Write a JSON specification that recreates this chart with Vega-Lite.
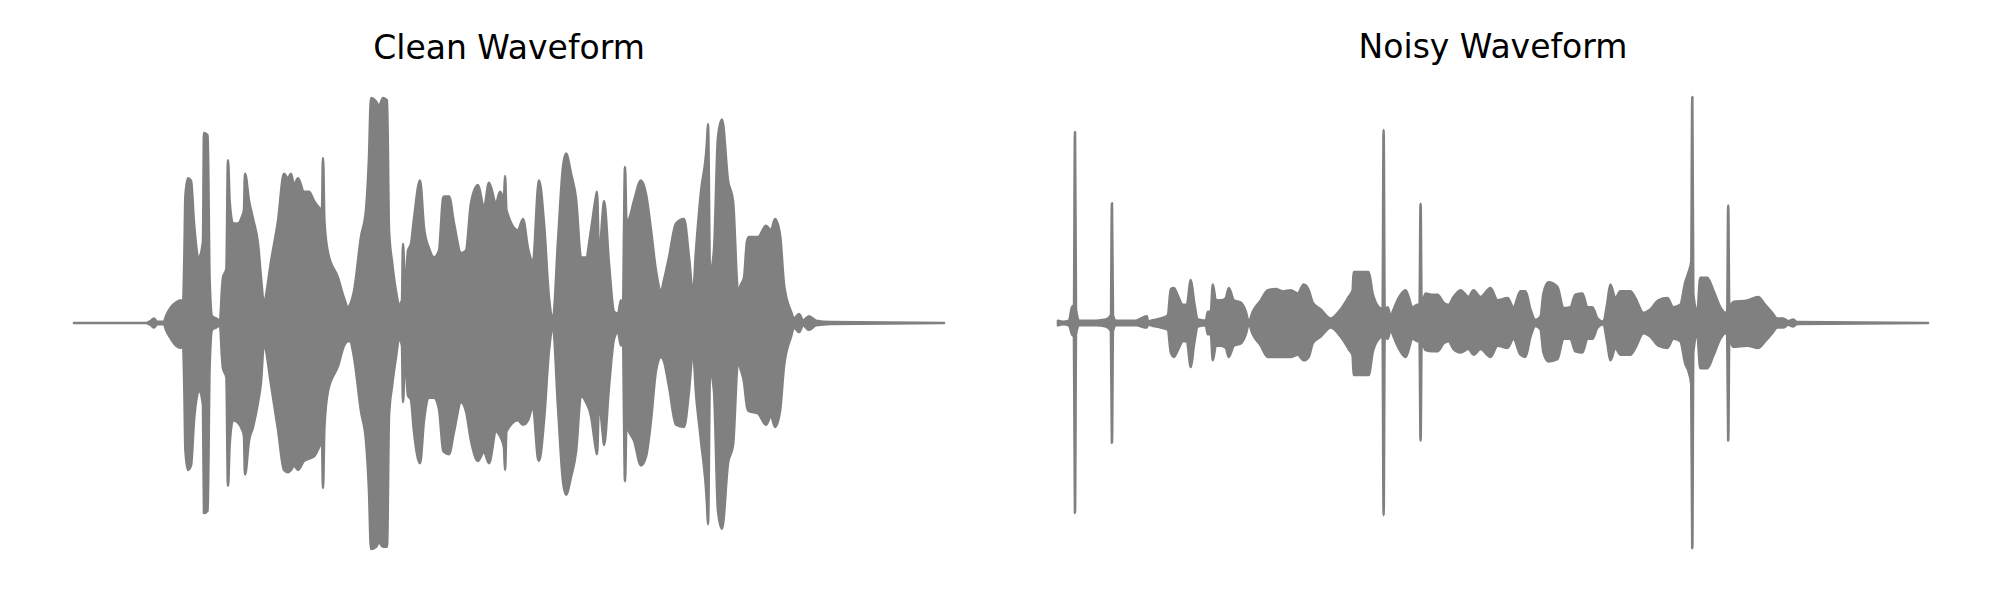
{
  "$schema": "https://vega.github.io/schema/vega-lite/v6.json",
  "background": "white",
  "padding": {"left": 72, "top": 31, "right": 0, "bottom": 0},
  "spacing": 110,
  "config": {
    "view": {"stroke": null},
    "title": {"font": "DejaVu Sans", "fontSize": 33, "fontWeight": "normal", "color": "#000000", "anchor": "middle", "baseline": "alphabetic", "offset": 31}
  },
  "datasets": {
    "clean": [
      {"t": 0, "hi": 0, "lo": 0}, {"t": 360, "hi": 0, "lo": 0}, {"t": 385, "hi": 0.01, "lo": -0.01}, {"t": 400, "hi": 0.02, "lo": -0.02}, {"t": 415, "hi": 0.005, "lo": -0.005}, {"t": 450, "hi": 0.005, "lo": -0.005},
      {"t": 460, "hi": 0.03, "lo": -0.03}, {"t": 485, "hi": 0.07, "lo": -0.07}, {"t": 510, "hi": 0.09, "lo": -0.1}, {"t": 535, "hi": 0.1, "lo": -0.11}, {"t": 545, "hi": 0.08, "lo": -0.09},
      {"t": 552, "hi": 0.3, "lo": -0.3}, {"t": 557, "hi": 0.56, "lo": -0.56}, {"t": 570, "hi": 0.64, "lo": -0.65}, {"t": 585, "hi": 0.63, "lo": -0.63}, {"t": 600, "hi": 0.44, "lo": -0.43}, {"t": 625, "hi": 0.29, "lo": -0.3},
      {"t": 645, "hi": 0.36, "lo": -0.36}, {"t": 650, "hi": 0.84, "lo": -0.84}, {"t": 668, "hi": 0.83, "lo": -0.83}, {"t": 678, "hi": 0.19, "lo": -0.19}, {"t": 690, "hi": 0.03, "lo": -0.03},
      {"t": 710, "hi": 0.02, "lo": -0.02}, {"t": 730, "hi": 0.01, "lo": -0.01}, {"t": 740, "hi": 0.15, "lo": -0.15}, {"t": 745, "hi": 0.2, "lo": -0.2}, {"t": 762, "hi": 0.24, "lo": -0.24}, {"t": 770, "hi": 0.72, "lo": -0.72},
      {"t": 778, "hi": 0.54, "lo": -0.54}, {"t": 795, "hi": 0.44, "lo": -0.43}, {"t": 820, "hi": 0.44, "lo": -0.44}, {"t": 840, "hi": 0.47, "lo": -0.47}, {"t": 850, "hi": 0.5, "lo": -0.5}, {"t": 855, "hi": 0.66, "lo": -0.67},
      {"t": 875, "hi": 0.54, "lo": -0.52}, {"t": 895, "hi": 0.46, "lo": -0.46}, {"t": 920, "hi": 0.35, "lo": -0.35}, {"t": 935, "hi": 0.2, "lo": -0.26}, {"t": 950, "hi": 0.08, "lo": -0.08},
      {"t": 960, "hi": 0.12, "lo": -0.12}, {"t": 985, "hi": 0.27, "lo": -0.27}, {"t": 1020, "hi": 0.45, "lo": -0.47}, {"t": 1050, "hi": 0.66, "lo": -0.65}, {"t": 1070, "hi": 0.64, "lo": -0.66},
      {"t": 1085, "hi": 0.66, "lo": -0.65}, {"t": 1100, "hi": 0.61, "lo": -0.63}, {"t": 1120, "hi": 0.64, "lo": -0.65}, {"t": 1150, "hi": 0.58, "lo": -0.61}, {"t": 1175, "hi": 0.58, "lo": -0.6},
      {"t": 1200, "hi": 0.54, "lo": -0.59}, {"t": 1225, "hi": 0.51, "lo": -0.55}, {"t": 1240, "hi": 0.5, "lo": -0.52}, {"t": 1245, "hi": 0.73, "lo": -0.73}, {"t": 1252, "hi": 0.45, "lo": -0.46}, {"t": 1270, "hi": 0.31, "lo": -0.3},
      {"t": 1320, "hi": 0.2, "lo": -0.19}, {"t": 1350, "hi": 0.11, "lo": -0.1}, {"t": 1370, "hi": 0.07, "lo": -0.08}, {"t": 1380, "hi": 0.08, "lo": -0.08}, {"t": 1400, "hi": 0.14, "lo": -0.15},
      {"t": 1435, "hi": 0.38, "lo": -0.39}, {"t": 1460, "hi": 0.5, "lo": -0.52}, {"t": 1475, "hi": 0.73, "lo": -0.74}, {"t": 1485, "hi": 0.995, "lo": -1.0}, {"t": 1510, "hi": 0.98, "lo": -0.99},
      {"t": 1525, "hi": 0.96, "lo": -0.97}, {"t": 1545, "hi": 0.995, "lo": -0.99}, {"t": 1565, "hi": 0.985, "lo": -0.99}, {"t": 1575, "hi": 0.41, "lo": -0.41}, {"t": 1590, "hi": 0.27, "lo": -0.28},
      {"t": 1610, "hi": 0.14, "lo": -0.15}, {"t": 1625, "hi": 0.08, "lo": -0.07}, {"t": 1640, "hi": 0.1, "lo": -0.1}, {"t": 1645, "hi": 0.35, "lo": -0.35}, {"t": 1655, "hi": 0.14, "lo": -0.14},
      {"t": 1670, "hi": 0.32, "lo": -0.32}, {"t": 1685, "hi": 0.35, "lo": -0.34}, {"t": 1700, "hi": 0.46, "lo": -0.48}, {"t": 1730, "hi": 0.63, "lo": -0.62}, {"t": 1750, "hi": 0.42, "lo": -0.43},
      {"t": 1775, "hi": 0.33, "lo": -0.33}, {"t": 1800, "hi": 0.29, "lo": -0.33}, {"t": 1825, "hi": 0.32, "lo": -0.38}, {"t": 1845, "hi": 0.55, "lo": -0.56}, {"t": 1850, "hi": 0.56, "lo": -0.57}, {"t": 1875, "hi": 0.56, "lo": -0.58},
      {"t": 1900, "hi": 0.44, "lo": -0.48}, {"t": 1935, "hi": 0.31, "lo": -0.35}, {"t": 1960, "hi": 0.32, "lo": -0.39}, {"t": 1985, "hi": 0.53, "lo": -0.52}, {"t": 2020, "hi": 0.61, "lo": -0.61},
      {"t": 2050, "hi": 0.51, "lo": -0.57}, {"t": 2075, "hi": 0.62, "lo": -0.62}, {"t": 2110, "hi": 0.53, "lo": -0.48}, {"t": 2130, "hi": 0.58, "lo": -0.5}, {"t": 2150, "hi": 0.55, "lo": -0.55}, {"t": 2155, "hi": 0.65, "lo": -0.65},
      {"t": 2162, "hi": 0.5, "lo": -0.48}, {"t": 2220, "hi": 0.41, "lo": -0.43}, {"t": 2245, "hi": 0.46, "lo": -0.45}, {"t": 2270, "hi": 0.33, "lo": -0.43}, {"t": 2295, "hi": 0.27, "lo": -0.37},
      {"t": 2320, "hi": 0.6, "lo": -0.6}, {"t": 2325, "hi": 0.63, "lo": -0.61}, {"t": 2350, "hi": 0.44, "lo": -0.43}, {"t": 2375, "hi": 0.11, "lo": -0.12}, {"t": 2395, "hi": 0.02, "lo": -0.02}, {"t": 2420, "hi": 0.36, "lo": -0.37},
      {"t": 2445, "hi": 0.69, "lo": -0.7}, {"t": 2460, "hi": 0.75, "lo": -0.76}, {"t": 2485, "hi": 0.66, "lo": -0.68}, {"t": 2510, "hi": 0.55, "lo": -0.57}, {"t": 2535, "hi": 0.29, "lo": -0.32},
      {"t": 2560, "hi": 0.29, "lo": -0.35}, {"t": 2585, "hi": 0.41, "lo": -0.41}, {"t": 2610, "hi": 0.56, "lo": -0.56}, {"t": 2615, "hi": 0.58, "lo": -0.58}, {"t": 2625, "hi": 0.29, "lo": -0.35}, {"t": 2645, "hi": 0.5, "lo": -0.5}, {"t": 2650, "hi": 0.54, "lo": -0.54},
      {"t": 2675, "hi": 0.26, "lo": -0.28}, {"t": 2700, "hi": 0.05, "lo": -0.07}, {"t": 2720, "hi": 0.04, "lo": -0.04}, {"t": 2735, "hi": 0.1, "lo": -0.1}, {"t": 2745, "hi": 0.05, "lo": -0.05},
      {"t": 2750, "hi": 0.4, "lo": -0.4}, {"t": 2755, "hi": 0.69, "lo": -0.7}, {"t": 2762, "hi": 0.45, "lo": -0.45}, {"t": 2775, "hi": 0.46, "lo": -0.48}, {"t": 2800, "hi": 0.54, "lo": -0.52}, {"t": 2835, "hi": 0.63, "lo": -0.63},
      {"t": 2860, "hi": 0.57, "lo": -0.59}, {"t": 2885, "hi": 0.41, "lo": -0.43}, {"t": 2910, "hi": 0.23, "lo": -0.21}, {"t": 2935, "hi": 0.14, "lo": -0.15}, {"t": 2950, "hi": 0.19, "lo": -0.17},
      {"t": 2975, "hi": 0.29, "lo": -0.28}, {"t": 3010, "hi": 0.44, "lo": -0.45}, {"t": 3050, "hi": 0.46, "lo": -0.46}, {"t": 3075, "hi": 0.29, "lo": -0.3}, {"t": 3095, "hi": 0.13, "lo": -0.12},
      {"t": 3110, "hi": 0.32, "lo": -0.31}, {"t": 3135, "hi": 0.58, "lo": -0.52}, {"t": 3165, "hi": 0.8, "lo": -0.8}, {"t": 3170, "hi": 0.88, "lo": -0.89}, {"t": 3180, "hi": 0.22, "lo": -0.21}, {"t": 3200, "hi": 0.32, "lo": -0.3},
      {"t": 3220, "hi": 0.82, "lo": -0.83}, {"t": 3240, "hi": 0.9, "lo": -0.91}, {"t": 3270, "hi": 0.63, "lo": -0.62}, {"t": 3295, "hi": 0.54, "lo": -0.54}, {"t": 3320, "hi": 0.14, "lo": -0.17},
      {"t": 3335, "hi": 0.17, "lo": -0.21}, {"t": 3350, "hi": 0.2, "lo": -0.26}, {"t": 3365, "hi": 0.36, "lo": -0.37}, {"t": 3375, "hi": 0.38, "lo": -0.39}, {"t": 3420, "hi": 0.38, "lo": -0.4}, {"t": 3460, "hi": 0.43, "lo": -0.45},
      {"t": 3485, "hi": 0.41, "lo": -0.41}, {"t": 3505, "hi": 0.46, "lo": -0.46}, {"t": 3530, "hi": 0.39, "lo": -0.39}, {"t": 3550, "hi": 0.17, "lo": -0.19}, {"t": 3585, "hi": 0.05, "lo": -0.06},
      {"t": 3600, "hi": 0.02, "lo": -0.02}, {"t": 3625, "hi": 0.04, "lo": -0.04}, {"t": 3645, "hi": 0.01, "lo": -0.01}, {"t": 3675, "hi": 0.03, "lo": -0.03}, {"t": 3710, "hi": 0.01, "lo": -0.01},
      {"t": 3785, "hi": 0.004, "lo": -0.004}, {"t": 4350, "hi": 0, "lo": 0}
    ],
    "noisy": [
      {"t": 0, "hi": 0.01, "lo": -0.01}, {"t": 25, "hi": 0.005, "lo": -0.005}, {"t": 55, "hi": 0.01, "lo": -0.01}, {"t": 70, "hi": 0.07, "lo": -0.05}, {"t": 80, "hi": 0.08, "lo": -0.06},
      {"t": 85, "hi": 0.845, "lo": -0.84}, {"t": 90, "hi": 0.06, "lo": -0.05}, {"t": 105, "hi": 0.01, "lo": -0.01}, {"t": 190, "hi": 0.01, "lo": -0.01}, {"t": 240, "hi": 0.015, "lo": -0.015},
      {"t": 265, "hi": 0.035, "lo": -0.035}, {"t": 270, "hi": 0.53, "lo": -0.53}, {"t": 275, "hi": 0.035, "lo": -0.035}, {"t": 290, "hi": 0.01, "lo": -0.01}, {"t": 390, "hi": 0.01, "lo": -0.01},
      {"t": 445, "hi": 0.03, "lo": -0.02}, {"t": 450, "hi": 0.005, "lo": -0.005}, {"t": 465, "hi": 0.01, "lo": -0.01}, {"t": 515, "hi": 0.02, "lo": -0.02}, {"t": 550, "hi": 0.035, "lo": -0.03},
      {"t": 565, "hi": 0.15, "lo": -0.13}, {"t": 580, "hi": 0.155, "lo": -0.15}, {"t": 600, "hi": 0.12, "lo": -0.12}, {"t": 625, "hi": 0.08, "lo": -0.08}, {"t": 645, "hi": 0.08, "lo": -0.08},
      {"t": 665, "hi": 0.19, "lo": -0.195}, {"t": 680, "hi": 0.1, "lo": -0.1}, {"t": 700, "hi": 0.015, "lo": -0.015}, {"t": 740, "hi": 0.01, "lo": -0.01}, {"t": 750, "hi": 0.05, "lo": -0.05},
      {"t": 765, "hi": 0.05, "lo": -0.05}, {"t": 775, "hi": 0.17, "lo": -0.165}, {"t": 790, "hi": 0.1, "lo": -0.1}, {"t": 815, "hi": 0.1, "lo": -0.1}, {"t": 840, "hi": 0.11, "lo": -0.11},
      {"t": 855, "hi": 0.155, "lo": -0.15}, {"t": 880, "hi": 0.1, "lo": -0.1}, {"t": 915, "hi": 0.09, "lo": -0.09}, {"t": 940, "hi": 0.05, "lo": -0.05}, {"t": 955, "hi": 0.005, "lo": -0.005},
      {"t": 975, "hi": 0.05, "lo": -0.05}, {"t": 1015, "hi": 0.1, "lo": -0.1}, {"t": 1050, "hi": 0.145, "lo": -0.15}, {"t": 1090, "hi": 0.15, "lo": -0.15}, {"t": 1125, "hi": 0.14, "lo": -0.15},
      {"t": 1165, "hi": 0.145, "lo": -0.15}, {"t": 1200, "hi": 0.13, "lo": -0.14}, {"t": 1230, "hi": 0.17, "lo": -0.165}, {"t": 1255, "hi": 0.145, "lo": -0.15}, {"t": 1275, "hi": 0.09, "lo": -0.09},
      {"t": 1315, "hi": 0.06, "lo": -0.06}, {"t": 1365, "hi": 0.02, "lo": -0.02}, {"t": 1415, "hi": 0.06, "lo": -0.06}, {"t": 1455, "hi": 0.115, "lo": -0.115}, {"t": 1475, "hi": 0.145, "lo": -0.145},
      {"t": 1480, "hi": 0.225, "lo": -0.23}, {"t": 1555, "hi": 0.225, "lo": -0.23}, {"t": 1575, "hi": 0.13, "lo": -0.13}, {"t": 1605, "hi": 0.07, "lo": -0.07}, {"t": 1625, "hi": 0.06, "lo": -0.06},
      {"t": 1630, "hi": 0.854, "lo": -0.85}, {"t": 1635, "hi": 0.06, "lo": -0.06}, {"t": 1650, "hi": 0.07, "lo": -0.07}, {"t": 1665, "hi": 0.03, "lo": -0.03}, {"t": 1680, "hi": 0.06, "lo": -0.06},
      {"t": 1705, "hi": 0.11, "lo": -0.11}, {"t": 1740, "hi": 0.145, "lo": -0.15}, {"t": 1775, "hi": 0.07, "lo": -0.07}, {"t": 1800, "hi": 0.08, "lo": -0.08}, {"t": 1810, "hi": 0.08, "lo": -0.08},
      {"t": 1815, "hi": 0.527, "lo": -0.52}, {"t": 1820, "hi": 0.08, "lo": -0.08}, {"t": 1840, "hi": 0.13, "lo": -0.12}, {"t": 1875, "hi": 0.125, "lo": -0.125}, {"t": 1900, "hi": 0.125, "lo": -0.125},
      {"t": 1930, "hi": 0.09, "lo": -0.09}, {"t": 1955, "hi": 0.08, "lo": -0.08}, {"t": 1980, "hi": 0.115, "lo": -0.115}, {"t": 2015, "hi": 0.145, "lo": -0.13}, {"t": 2055, "hi": 0.115, "lo": -0.115},
      {"t": 2080, "hi": 0.145, "lo": -0.14}, {"t": 2115, "hi": 0.115, "lo": -0.115}, {"t": 2165, "hi": 0.155, "lo": -0.15}, {"t": 2200, "hi": 0.1, "lo": -0.1}, {"t": 2250, "hi": 0.11, "lo": -0.11},
      {"t": 2280, "hi": 0.07, "lo": -0.07}, {"t": 2315, "hi": 0.14, "lo": -0.14}, {"t": 2340, "hi": 0.14, "lo": -0.15}, {"t": 2365, "hi": 0.06, "lo": -0.06}, {"t": 2390, "hi": 0.013, "lo": -0.013},
      {"t": 2415, "hi": 0.027, "lo": -0.027}, {"t": 2430, "hi": 0.13, "lo": -0.13}, {"t": 2455, "hi": 0.18, "lo": -0.17}, {"t": 2500, "hi": 0.16, "lo": -0.16}, {"t": 2530, "hi": 0.066, "lo": -0.07},
      {"t": 2565, "hi": 0.07, "lo": -0.07}, {"t": 2590, "hi": 0.125, "lo": -0.125}, {"t": 2625, "hi": 0.13, "lo": -0.13}, {"t": 2650, "hi": 0.07, "lo": -0.07}, {"t": 2675, "hi": 0.07, "lo": -0.07},
      {"t": 2700, "hi": 0.02, "lo": -0.02}, {"t": 2730, "hi": 0.005, "lo": -0.005}, {"t": 2750, "hi": 0.09, "lo": -0.09}, {"t": 2765, "hi": 0.17, "lo": -0.165}, {"t": 2790, "hi": 0.11, "lo": -0.11},
      {"t": 2815, "hi": 0.14, "lo": -0.14}, {"t": 2865, "hi": 0.14, "lo": -0.14}, {"t": 2890, "hi": 0.11, "lo": -0.11}, {"t": 2930, "hi": 0.045, "lo": -0.045}, {"t": 2965, "hi": 0.06, "lo": -0.06},
      {"t": 3005, "hi": 0.1, "lo": -0.1}, {"t": 3050, "hi": 0.11, "lo": -0.11}, {"t": 3080, "hi": 0.07, "lo": -0.07}, {"t": 3115, "hi": 0.08, "lo": -0.08}, {"t": 3140, "hi": 0.18, "lo": -0.18},
      {"t": 3155, "hi": 0.22, "lo": -0.21}, {"t": 3170, "hi": 0.27, "lo": -0.27}, {"t": 3175, "hi": 1.0, "lo": -0.996}, {"t": 3180, "hi": 0.13, "lo": -0.13}, {"t": 3200, "hi": 0.045, "lo": -0.045},
      {"t": 3215, "hi": 0.2, "lo": -0.2}, {"t": 3250, "hi": 0.2, "lo": -0.2}, {"t": 3280, "hi": 0.145, "lo": -0.145}, {"t": 3315, "hi": 0.07, "lo": -0.07}, {"t": 3340, "hi": 0.045, "lo": -0.045},
      {"t": 3350, "hi": 0.05, "lo": -0.05}, {"t": 3355, "hi": 0.52, "lo": -0.52}, {"t": 3360, "hi": 0.07, "lo": -0.07}, {"t": 3380, "hi": 0.093, "lo": -0.105}, {"t": 3450, "hi": 0.1, "lo": -0.1},
      {"t": 3505, "hi": 0.115, "lo": -0.11}, {"t": 3540, "hi": 0.08, "lo": -0.08}, {"t": 3575, "hi": 0.045, "lo": -0.045}, {"t": 3600, "hi": 0.02, "lo": -0.02}, {"t": 3630, "hi": 0.02, "lo": -0.02},
      {"t": 3655, "hi": 0.008, "lo": -0.008}, {"t": 3680, "hi": 0.015, "lo": -0.015}, {"t": 3700, "hi": 0.004, "lo": -0.004}, {"t": 4355, "hi": 0, "lo": 0}
    ]
  },
  "hconcat": [
    {
      "title": "Clean Waveform",
      "width": 870,
      "height": 452,
      "data": {"name": "clean"},
      "mark": {"type": "area", "color": "#808080", "stroke": "#808080", "strokeWidth": 2.6, "strokeJoin": "round", "strokeCap": "round", "interpolate": "monotone"},
      "encoding": {
        "x": {"field": "t", "type": "quantitative", "axis": null, "scale": {"domain": [0, 4350], "nice": false, "zero": false}},
        "y": {"field": "hi", "type": "quantitative", "axis": null, "scale": {"domain": [-1, 1], "nice": false}},
        "y2": {"field": "lo"}
      }
    },
    {
      "title": "Noisy Waveform",
      "width": 870,
      "height": 452,
      "data": {"name": "noisy"},
      "mark": {"type": "area", "color": "#808080", "stroke": "#808080", "strokeWidth": 2.6, "strokeJoin": "round", "strokeCap": "round", "interpolate": "monotone"},
      "encoding": {
        "x": {"field": "t", "type": "quantitative", "axis": null, "scale": {"domain": [0, 4355], "nice": false, "zero": false}},
        "y": {"field": "hi", "type": "quantitative", "axis": null, "scale": {"domain": [-1, 1], "nice": false}},
        "y2": {"field": "lo"}
      }
    }
  ]
}
